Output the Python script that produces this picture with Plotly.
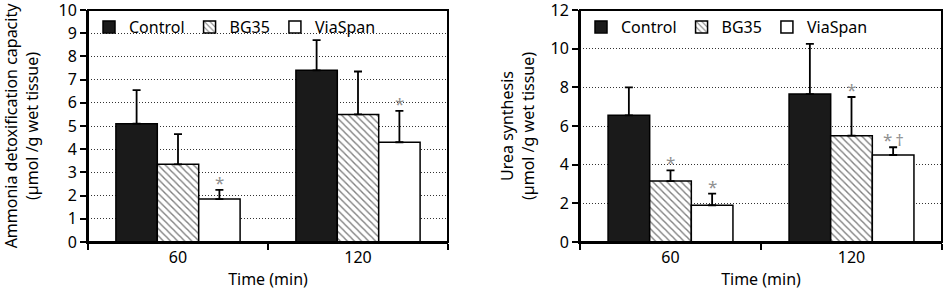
import plotly.graph_objects as go

categories = ["60", "120"]
series_names = ["Control", "BG35", "ViaSpan"]

ammonia_control = [5.1, 7.4]
ammonia_control_err = [1.45, 1.3]
ammonia_bg35 = [3.35, 5.5]
ammonia_bg35_err = [1.3, 1.85]
ammonia_viaspan = [1.85, 4.3]
ammonia_viaspan_err = [0.4, 1.35]

urea_control = [6.55, 7.65]
urea_control_err = [1.45, 2.6]
urea_bg35 = [3.15, 5.5]
urea_bg35_err = [0.55, 2.0]
urea_viaspan = [1.9, 4.5]
urea_viaspan_err = [0.6, 0.4]

ammonia_ticks = [0, 1, 2, 3, 4, 5, 6, 7, 8, 9, 10]
urea_ticks = [0, 2, 4, 6, 8, 10, 12]

# significance marks: (panel, category index, series index, label)
sig_marks = [
    (1, 0, 2, "*"), (1, 1, 2, "*"),
    (2, 0, 1, "*"), (2, 0, 2, "*"), (2, 1, 1, "*"), (2, 1, 2, "*\u2009\u2020"),
]

FONT = "Noto Sans"
BARGAP = 0.31

fig = go.Figure()

styles = [
    dict(color="#1a1a1a", pattern=None),
    dict(color="white", pattern=dict(shape="\\", fgcolor="black", bgcolor="white", size=5, solidity=0.28, fillmode="overlay")),
    dict(color="white", pattern=None),
]

panels = [
    (1, [ammonia_control, ammonia_bg35, ammonia_viaspan],
     [ammonia_control_err, ammonia_bg35_err, ammonia_viaspan_err]),
    (2, [urea_control, urea_bg35, urea_viaspan],
     [urea_control_err, urea_bg35_err, urea_viaspan_err]),
]

for p, vals, errs in panels:
    for i, name in enumerate(series_names):
        marker = dict(color=styles[i]["color"], line=dict(color="black", width=1.5))
        if styles[i]["pattern"]:
            marker["pattern"] = styles[i]["pattern"]
        fig.add_trace(go.Bar(
            x=categories, y=vals[i], name=name, marker=marker,
            error_y=dict(type="data", array=errs[i], arrayminus=[0] * len(errs[i]),
                         symmetric=False, color="black", thickness=1.8, width=4),
            xaxis="x" if p == 1 else "x2", yaxis="y" if p == 1 else "y2",
            legend="legend" if p == 1 else "legend2",
            showlegend=True,
        ))

bw = (1 - BARGAP) / 3
for p, ci, si, lab in sig_marks:
    vals, errs = panels[p - 1][1], panels[p - 1][2]
    top = vals[si][ci] + errs[si][ci]
    fig.add_annotation(
        x=ci + (si - 1) * bw, y=top, xref="x" if p == 1 else "x2", yref="y" if p == 1 else "y2",
        text=lab, showarrow=False, yanchor="bottom", yshift=-6,
        font=dict(family=FONT, size=17, color="#909090"),
    )

# plot frames
for xr, yr in (("x domain", "y domain"), ("x2 domain", "y2 domain")):
    fig.add_shape(type="rect", xref=xr, yref=yr, x0=0, x1=1, y0=0, y1=1,
                  line=dict(color="black", width=2), layer="above")

axis_common = dict(showline=True, linecolor="black", linewidth=2,
                   tickfont=dict(family=FONT, size=16, color="black"),
                   automargin=False)

grid_style = dict(showgrid=True, gridcolor="#333", griddash="1px,2px", gridwidth=1, zeroline=False)

fig.update_layout(
    template="none",
    width=944, height=290,
    margin=dict(l=0, r=0, t=10, b=48),
    paper_bgcolor="white", plot_bgcolor="white",
    barmode="group", bargap=BARGAP, bargroupgap=0,
    font=dict(family=FONT, size=16, color="black"),
    xaxis=dict(domain=[88 / 944, 448 / 944], type="category", tickson="boundaries",
               ticks="outside", ticklen=6, tickwidth=1.5, tickcolor="black", showgrid=False,
               title=dict(text="Time (min)", font=dict(family=FONT, size=16), standoff=8),
               anchor="y", **axis_common),
    yaxis=dict(domain=[0, 1], range=[0, 10], tickmode="array", tickvals=ammonia_ticks,
               ticks="outside", ticklen=6, tickwidth=1.5, tickcolor="black",
               ticklabeloverflow="allow",
               title=dict(text="Ammonia detoxification capacity<br>(\u00b5mol /g wet tissue)",
                          font=dict(family=FONT, size=16), standoff=24),
               anchor="x", **grid_style, **axis_common),
    xaxis2=dict(domain=[580 / 944, 942 / 944], type="category", tickson="boundaries",
                ticks="outside", ticklen=6, tickwidth=1.5, tickcolor="black", showgrid=False,
                title=dict(text="Time (min)", font=dict(family=FONT, size=16), standoff=8),
                anchor="y2", **axis_common),
    yaxis2=dict(domain=[0, 1], range=[0, 12], tickmode="array", tickvals=urea_ticks,
                ticks="outside", ticklen=6, tickwidth=1.5, tickcolor="black",
                ticklabeloverflow="allow",
                title=dict(text="Urea synthesis<br>(\u00b5mol /g wet tissue)",
                           font=dict(family=FONT, size=16), standoff=12),
                anchor="x2", **grid_style, **axis_common),
    legend=dict(orientation="h", x=89 / 944, y=1, xanchor="left", yanchor="top",
                bgcolor="rgba(0,0,0,0)", font=dict(family=FONT, size=16), traceorder="normal"),
    legend2=dict(orientation="h", x=581 / 944, y=1, xanchor="left", yanchor="top",
                 bgcolor="rgba(0,0,0,0)", font=dict(family=FONT, size=16), traceorder="normal"),
)

fig.write_html("out.html", config={"displayModeBar": False},
               post_script="document.body.style.margin='0px';")
